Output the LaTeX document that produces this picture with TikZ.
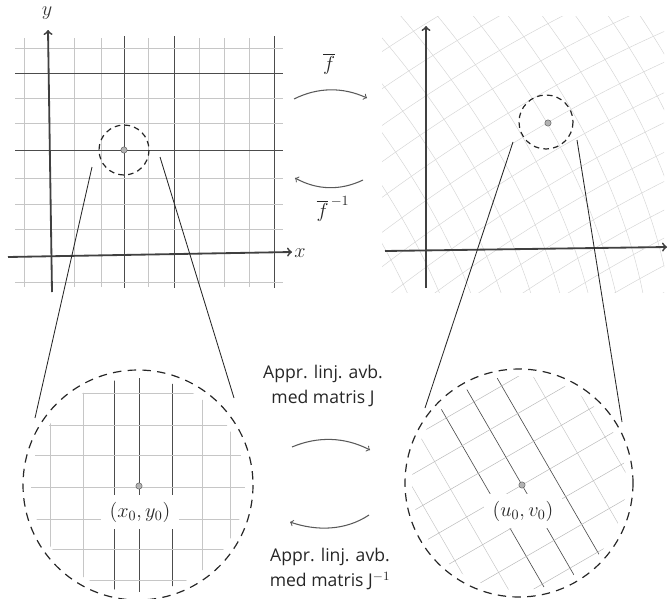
\documentclass[tikz,border=0pt]{standalone}
\usepackage{fontspec}
\setmainfont{Open Sans}
\usetikzlibrary{positioning}

\tikzset{
  lightgrid/.style={gray!45, line width=0.35pt},
  faintgrid/.style={gray!32, line width=0.35pt},
  darkgrid/.style={gray!60!black, line width=0.45pt},
  axisline/.style={->, black!75, line width=1.3pt},
  smallring/.style={dash pattern=on 4pt off 3pt, black!85, line width=0.85pt},
  bigring/.style={dash pattern=on 6pt off 4.5pt, black!85, line width=0.85pt},
  feeder/.style={black!85, line width=0.6pt},
  maparrow/.style={->, gray!70!black, line width=0.75pt},
  centerdot/.style={circle, fill=gray!60, draw=gray!70!black, line width=0.3pt, inner sep=0pt, minimum size=4.5pt},
  handtext/.style={font=\fontsize{12.5}{18}\selectfont, text=black!85, align=center},
  ptlabel/.style={fill=white, inner xsep=6pt, inner ysep=5pt, font=\Large, text=black!85}
}

\begin{document}
\begin{tikzpicture}[x=0.025cm, y=-0.025cm]
    \useasboundingbox (0,0) rectangle (669,598);

    % xy-plane
    \foreach \gx in {24,74,101,148,199,224,249}
        \draw[lightgrid] (\gx,38) -- (\gx,287);
    \foreach \gx in {124,174,274}
        \draw[darkgrid] (\gx,36) -- (\gx,288);
    \foreach \gy in {48,98,123,178,204,229,282}
        \draw[lightgrid] (15,\gy) -- (283,\gy);
    \foreach \gy in {73,150}
        \draw[darkgrid] (15,\gy) -- (283,\gy);

    \coordinate (ybot) at (52,292);
    \coordinate (ytop) at (48,30);
    \coordinate (xlft) at (8,257);
    \coordinate (xrgt) at (292,252);
    \draw[axisline] (ybot) -- (ytop);
    \draw[axisline] (xlft) -- (xrgt);
    \node[font=\Large, text=black!80] (ylab) at (47,13) {$y$};
    \node[font=\Large, text=black!80] (xlab) at (300,253) {$x$};

    \draw[smallring] (124,150) circle (25);
    \node[centerdot] (p0) at (124,150) {};

    % uv-plane, bent grid
    \begin{scope}
        \clip (382,16) rectangle (664,292);
        \foreach \t in {-10,...,8}
            \draw[faintgrid] plot[domain=-11:8, samples=40, variable=\s]
                ({547+24.2*(\s)-14*(\t)-0.6*(\t)*(\t)}, {123-14*(\s)-24.2*(\t)+0.3*(\s)*(\s)});
        \foreach \s in {-11,...,8}
            \draw[faintgrid] plot[domain=-10:8, samples=40, variable=\t]
                ({547+24.2*(\s)-14*(\t)-0.6*(\t)*(\t)}, {123-14*(\s)-24.2*(\t)+0.3*(\s)*(\s)});
    \end{scope}

    \coordinate (vbot) at (426,288);
    \coordinate (vtop) at (426,26);
    \coordinate (ulft) at (385,251);
    \coordinate (urgt) at (667,247);
    \draw[axisline] (vbot) -- (vtop);
    \draw[axisline] (ulft) -- (urgt);

    \draw[smallring] (546,122) circle (27);
    \node[centerdot] (q0) at (548,123) {};

    % f and its inverse
    \coordinate (fa) at (294,99);
    \coordinate (fb) at (367,98);
    \coordinate (ga) at (363,180);
    \coordinate (gb) at (295,178);
    \draw[maparrow] (fa) .. controls (318,87) and (343,87) .. (fb);
    \draw[maparrow] (ga) .. controls (340,191) and (317,190) .. (gb);
    \node[font=\Large, text=black!85] (flab) at (329,64) {$\overline{f}$};
    \node[font=\Large, text=black!85] (finv) at (333,209) {$\overline{f}^{\,-1}$};

    % zoom on (x0,y0)
    \begin{scope}
        \clip (138,485) circle (107);
        \foreach \gx in {50,83,202,230}
            \draw[lightgrid] (\gx,360) -- (\gx,600);
        \foreach \gx in {114,139,172}
            \draw[darkgrid] (\gx,360) -- (\gx,600);
        \foreach \gy in {393,425,455,487,519,549,580}
            \draw[lightgrid] (20,\gy) -- (260,\gy);
    \end{scope}
    \draw[bigring] (138,485) circle (115);
    \node[ptlabel] (xy0) at (140,512) {$(x_0,y_0)$};
    \node[centerdot] (p1) at (139,486) {};

    % zoom on (u0,v0)
    \begin{scope}
        \clip (519,483) circle (107);
        \foreach \k in {-4,-3,-2,2,3,4}
            \draw[lightgrid] ({522+27.7*\k+80},{485-16*\k+138.5}) -- ({522+27.7*\k-80},{485-16*\k-138.5});
        \foreach \k in {-1,0,1}
            \draw[darkgrid] ({522+27.7*\k+80},{485-16*\k+138.5}) -- ({522+27.7*\k-80},{485-16*\k-138.5});
        \foreach \k in {-4,...,4}
            \draw[lightgrid, gray!55] ({522-16*\k-138.5},{485-27.7*\k+80}) -- ({522-16*\k+138.5},{485-27.7*\k-80});
    \end{scope}
    \draw[bigring] (519,483) circle (114);
    \node[ptlabel] (uv0) at (523,511) {$(u_0,v_0)$};
    \node[centerdot] (q1) at (522,485) {};

    % lines from the small rings down to the zooms
    \coordinate (la) at (92,167);
    \coordinate (lb) at (35,418);
    \coordinate (lc) at (160,157);
    \coordinate (ld) at (234,398);
    \coordinate (ra) at (513,142);
    \coordinate (rb) at (425,408);
    \coordinate (rc) at (577,140);
    \coordinate (rd) at (622,422);
    \draw[feeder] (la) -- (lb);
    \draw[feeder] (lc) -- (ld);
    \draw[feeder] (ra) -- (rb);
    \draw[feeder] (rc) -- (rd);

    % linear approximations
    \node[handtext] (jtxt) at (323,386) {Appr. linj. avb.\\med matris J};
    \coordinate (ja) at (292,447);
    \coordinate (jb) at (370,450);
    \coordinate (ka) at (369,515);
    \coordinate (kb) at (290,522);
    \draw[maparrow] (ja) .. controls (318,436) and (345,437) .. (jb);
    \draw[maparrow] (ka) .. controls (345,531) and (316,531) .. (kb);
    \node[handtext] (jinv) at (330,569) {Appr. linj. avb.\\med matris J$^{-1}$};
\end{tikzpicture}
\end{document}
